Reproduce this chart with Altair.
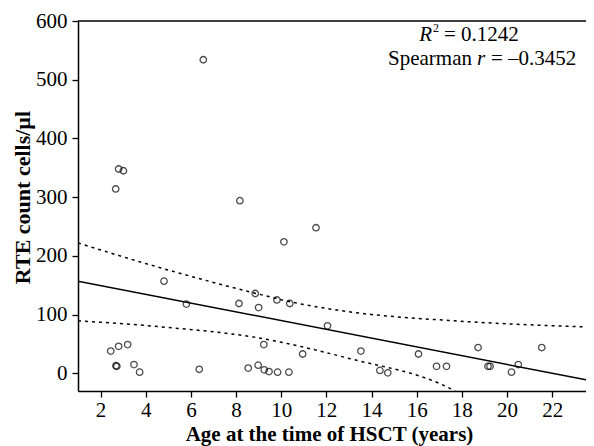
import altair as alt
import pandas as pd

# Scatter data (age at HSCT in years, RTE count cells/ul)
ages = [2.67, 2.80, 3.01, 6.55, 8.17, 11.54, 10.12, 4.81, 5.80, 8.13, 8.85, 9.00,
        9.81, 10.38, 12.05, 2.45, 2.80, 3.20, 2.68, 2.72, 3.48, 3.73, 6.37, 9.23,
        10.95, 8.54, 8.98, 9.25, 9.46, 9.84, 10.34, 13.53, 16.08, 18.72, 21.54,
        14.37, 14.72, 16.88, 17.32, 19.16, 19.25, 20.20, 20.50]
rte = [314, 348, 345, 534, 294, 248, 224, 157, 118, 119, 136, 112,
       125, 119, 81, 38, 46, 49, 13, 12, 15, 2, 7, 49,
       33, 9, 14, 6, 3, 2, 2, 38, 33, 44, 44,
       5, 1, 12, 12, 12, 12, 2, 15]

# Regression line
fit_x = [1.0, 23.5]
fit_y = [157, -11]

# Confidence band curves
upper_x = [1.0, 4.9, 8.9, 10.4, 13.0, 17.9, 23.5]
upper_y = [222, 177, 136, 122, 105, 89, 79]
lower_x = [1.0, 4.9, 8.9, 13.0, 17.5, 17.7]
lower_y = [89.5, 78.5, 61, 25.5, -26, -30]

x_ticks = [2, 4, 6, 8, 10, 12, 14, 16, 18, 20, 22]
y_ticks = [0, 100, 200, 300, 400, 500, 600]

W, H = 508, 370
FONT = "Liberation Serif"

xs = alt.Scale(domain=[1.0, 23.5], nice=False, zero=False)
ys = alt.Scale(domain=[-30, 600], nice=False, zero=False)

xaxis = alt.Axis(values=x_ticks, title="Age at the time of HSCT (years)",
                 titleX=251, titleY=43, titleBaseline="middle", titleAlign="center",
                 titleFontSize=21, labelPadding=2)
yaxis = alt.Axis(values=y_ticks, title="RTE count cells/µl",
                 titleX=-56, titleY=176, titleAngle=270, titleAlign="center",
                 titleBaseline="middle", titleFontSize=22, labelPadding=5)

pts = pd.DataFrame({"age": ages, "rte": rte})
points = alt.Chart(pts).mark_point(shape="circle", filled=False, size=42,
                                   color="black", strokeWidth=1.3).encode(
    x=alt.X("age:Q", scale=xs, axis=xaxis),
    y=alt.Y("rte:Q", scale=ys, axis=yaxis),
)

fit = alt.Chart(pd.DataFrame({"x": fit_x, "y": fit_y})).mark_line(
    color="black", strokeWidth=1.5, clip=True).encode(
    x=alt.X("x:Q", scale=xs), y=alt.Y("y:Q", scale=ys))

upper = alt.Chart(pd.DataFrame({"x": upper_x, "y": upper_y})).mark_line(
    color="black", strokeWidth=1.5, strokeDash=[3, 4], interpolate="monotone",
    clip=True).encode(x=alt.X("x:Q", scale=xs), y=alt.Y("y:Q", scale=ys))

lower = alt.Chart(pd.DataFrame({"x": lower_x, "y": lower_y})).mark_line(
    color="black", strokeWidth=1.5, strokeDash=[3, 4], interpolate="monotone",
    clip=True).encode(x=alt.X("x:Q", scale=xs), y=alt.Y("y:Q", scale=ys))

top_border = alt.Chart(pd.DataFrame({"a": [0]})).mark_rule(
    color="black", strokeWidth=1.5).encode(
    x=alt.value(0), x2=alt.value(W), y=alt.value(0))

def txt(s, x, y, align, style="normal", size=21, dy=0):
    return alt.Chart(pd.DataFrame({"t": [s]})).mark_text(
        font=FONT, fontSize=size, fontStyle=style, align=align,
        baseline="alphabetic", color="black", dy=dy).encode(
        text="t:N", x=alt.value(x), y=alt.value(y))

ox, oy = 78, 21
annot = [
    txt("R", 432 - ox, 41 - oy, "right", "italic"),
    txt("2", 433 - ox, 41 - oy, "left", "normal", 12, -9),
    txt("= 0.1242", 444 - ox, 41 - oy, "left"),
    txt("Spearman", 472 - ox, 65 - oy, "right"),
    txt("r", 477 - ox, 65 - oy, "left", "italic"),
    txt("= –0.3452", 491 - ox, 65 - oy, "left"),
]

chart = alt.layer(upper, lower, fit, points, top_border, *annot).properties(
    width=W, height=H,
    autosize=alt.AutoSizeParams(type="none"),
    padding={"left": 70, "top": 21 - 8, "right": 0, "bottom": 55},
).configure_view(stroke=None).configure_axis(
    grid=False, domainColor="black", domainWidth=1.5, tickColor="black",
    tickWidth=1.3, tickSize=6, labelFont=FONT, labelFontSize=21,
    labelColor="black", titleFont=FONT, titleFontSize=21, titleFontWeight="bold",
    titleColor="black",
)

chart.save("out.html", embed_options={"renderer": "svg", "actions": False})
